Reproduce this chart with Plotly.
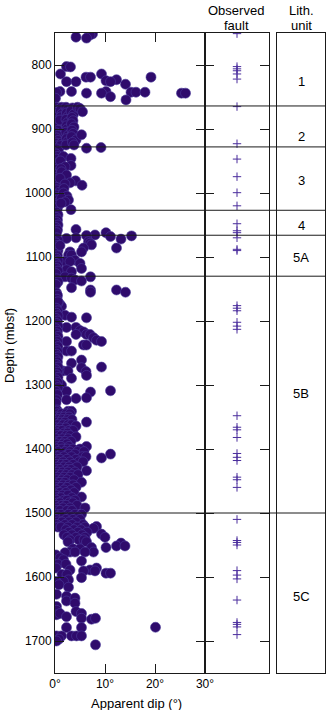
import plotly.graph_objects as go

# ---- Apparent dip picks (depth in mbsf, dip in degrees), grouped by lithologic unit ----
unit1_depth = [751.5, 753, 756.5, 758, 802.5, 803, 814, 814, 819, 819, 819, 823, 824.5, 826, 826, 826, 830,
               841.5, 841.5, 841.5, 842.5, 842.5, 842.5, 843, 844, 844, 844, 844, 849.5, 852, 854.5]
unit1_dip = [7.5, 7.0, 4.2, 6.3, 2.3, 3.1, 1.1, 9.3, 6.2, 7.1, 19.2, 12.3, 10.2, 2.3, 4.2, 11.1, 14.1,
             1.0, 3.3, 10.2, 15.2, 16.2, 18.0, 0.3, 6.3, 9.3, 25.3, 26.1, 11.1, 0.1, 14.2]

unit2_depth = [866, 870, 874, 878, 882, 886, 890, 894, 898, 902, 906, 910, 914, 918, 922, 926,
               866, 871, 876, 881, 886, 922, 926,
               866, 870, 875, 880, 885, 890, 895, 900, 905, 910, 915, 920, 925,
               867, 872, 877, 882, 887, 892, 897, 902, 907, 912, 917, 921, 925,
               866, 868, 873, 909, 930, 929]
unit2_dip = [0.3, 0.6, 0.2, 0.5, 0.3, 0.6, 0.2, 0.5, 0.3, 0.6, 0.2, 0.5, 0.3, 0.6, 0.2, 0.5,
             1.3, 1.1, 1.4, 1.2, 1.0, 1.3, 1.1,
             2.2, 2.5, 2.3, 2.6, 2.2, 2.5, 2.3, 2.4, 2.2, 2.6, 2.3, 2.5, 2.2,
             3.5, 3.2, 3.7, 3.4, 3.6, 3.3, 3.8, 3.4, 3.6, 3.3, 4.2, 3.5, 3.8,
             4.5, 5.0, 5.5, 5.3, 6.3, 9.2]

unit3_depth = [931, 935, 939, 943, 947, 951, 955, 959, 963, 967, 971, 975, 979, 983, 987, 991, 995, 999,
               1003, 1007, 1011, 1015, 1019, 1023,
               943, 946, 950, 957, 959, 962, 967, 972, 977, 981, 984, 986, 988, 993, 1000, 1005, 1008,
               1011, 1014, 1016, 1026]
unit3_dip = [0.3, 0.7, 0.2, 0.5, 0.3, 0.8, 0.2, 0.5, 0.3, 0.7, 0.2, 0.5, 0.3, 0.7, 0.2, 0.5, 0.3, 0.8,
             0.2, 0.5, 0.3, 0.7, 0.2, 0.5,
             1.7, 3.2, 1.1, 3.2, 2.0, 1.2, 1.3, 2.3, 1.0, 4.1, 3.0, 2.0, 5.4, 1.8, 1.7, 2.4, 1.3,
             2.7, 2.0, 1.2, 3.2]

unit4_depth = [1030, 1034, 1038, 1042, 1046, 1050, 1054, 1057, 1058, 1062]
unit4_dip = [0.3, 0.6, 0.2, 0.5, 0.3, 0.6, 0.2, 4.2, 0.5, 0.3]

unit5a_depth = [1062, 1065.5, 1066.5, 1067, 1068, 1070, 1071, 1072, 1076, 1078.5, 1081, 1086, 1086, 1092,
                1092, 1097, 1097, 1105, 1107, 1107, 1110, 1118, 1120, 1123,
                1070, 1074, 1078, 1082, 1086, 1090, 1094, 1098, 1102, 1106, 1110, 1114, 1118, 1122, 1126,
                1082]
unit5a_dip = [10.2, 8.0, 6.3, 15.3, 11.1, 4.2, 2.3, 13.2, 6.7, 7.0, 7.3, 12.3, 5.7, 5.3,
              3.0, 2.7, 3.3, 4.0, 2.0, 3.0, 5.0, 5.3, 2.3, 3.3,
              0.3, 0.6, 0.2, 0.5, 0.3, 0.6, 0.2, 0.5, 0.3, 0.6, 0.2, 0.5, 0.3, 0.6, 0.2,
              1.0]

unit5b_depth = [1131, 1131, 1133, 1136, 1137.5, 1148, 1151.5, 1155, 1151.5, 1155,
                1174, 1177, 1172, 1191, 1194, 1195,
                1210, 1210, 1215, 1217, 1221, 1221, 1221, 1226, 1230, 1232,
                1232, 1237.5, 1237.5, 1247, 1247,
                1261, 1266, 1272, 1273, 1279, 1285, 1278, 1278, 1276, 1289.5,
                1296, 1300, 1310, 1311, 1320, 1309, 1321, 1323,
                1134, 1139, 1143, 1156, 1160, 1166, 1170, 1180, 1184, 1188, 1192, 1196, 1200, 1204,
                1208, 1212, 1216, 1220, 1224, 1228, 1232, 1236, 1240, 1244, 1248, 1252, 1256, 1260,
                1264, 1268, 1272, 1276, 1280, 1284, 1288, 1292, 1296, 1300, 1304, 1310, 1315, 1323,
                1328, 1339,
                1341, 1341, 1341, 1345, 1345, 1345, 1345, 1350, 1350, 1350, 1350, 1354, 1354, 1354, 1354,
                1358, 1358, 1358, 1358, 1362, 1362, 1362, 1362, 1364, 1367, 1367, 1367,
                1371, 1371, 1371, 1371, 1375, 1375, 1375, 1379, 1379, 1379, 1379, 1381,
                1384, 1384, 1384, 1388, 1388, 1388, 1388, 1392, 1392, 1392, 1396, 1396, 1396, 1396,
                1400, 1400, 1400, 1400, 1400, 1404, 1404, 1404, 1404, 1404, 1408, 1408, 1408, 1408, 1408,
                1412, 1412, 1412, 1412, 1412, 1414, 1416, 1416, 1416, 1416, 1420, 1420, 1420, 1420, 1420,
                1424, 1424, 1424, 1424, 1428, 1428, 1428, 1428, 1432, 1432, 1432, 1432, 1434,
                1436, 1436, 1436, 1436, 1440, 1440, 1440, 1440, 1440, 1444, 1444, 1444,
                1448, 1448, 1448, 1448, 1452, 1452, 1452, 1452, 1456, 1456, 1456, 1456,
                1460, 1460, 1460, 1460, 1464, 1464, 1464, 1468, 1468, 1468, 1468, 1472, 1472, 1472, 1475,
                1476, 1476, 1476, 1480, 1480, 1480, 1480, 1484, 1484, 1484, 1484, 1488, 1488, 1488, 1488,
                1492, 1492, 1492, 1492, 1496, 1496, 1496, 1496]
unit5b_dip = [2.0, 7.1, 3.3, 4.0, 5.3, 3.3, 7.1, 7.1, 12.3, 14.1,
              1.0, 1.3, 0.6, 2.0, 3.3, 6.3,
              2.3, 4.2, 5.0, 5.7, 6.3, 7.0, 4.2, 7.7, 8.3, 9.3,
              2.3, 5.7, 6.3, 2.3, 3.3,
              5.3, 3.3, 9.3, 5.3, 6.2, 6.3, 1.6, 2.6, 0.8, 3.3,
              0.8, 1.3, 2.3, 7.1, 6.3, 11.1, 4.2, 2.3,
              0.3, 0.6, 0.2, 0.3, 0.5, 0.4, 0.6, 0.2, 0.5, 0.3, 0.6, 0.2, 0.5, 0.3,
              0.6, 0.2, 0.5, 0.3, 0.6, 0.2, 0.5, 0.3, 0.6, 0.2, 0.5, 0.3, 0.6, 0.2,
              0.5, 0.3, 0.6, 0.2, 0.5, 0.3, 0.6, 0.2, 0.5, 0.3, 0.6, 0.2, 0.5, 0.3,
              0.2, 0.4,
              0.3, 2.6, 3.3, 0.5, 1.3, 2.2, 3.0, 0.2, 1.0, 1.8, 2.8, 0.6, 1.5, 2.5, 3.4,
              0.3, 1.2, 2.0, 6.3, 0.5, 1.6, 2.6, 3.3, 4.2, 0.2, 1.0, 2.2,
              0.6, 1.4, 2.8, 3.6, 0.3, 1.8, 2.5, 0.5, 1.2, 2.2, 3.0, 4.2,
              0.2, 1.5, 2.6, 0.6, 1.0, 2.0, 3.2, 0.3, 1.6, 2.4, 0.5, 1.2, 2.8, 6.3,
              0.3, 1.4, 2.5, 3.6, 5.0, 0.6, 2.0, 3.0, 4.5, 5.8, 0.2, 1.2, 2.8, 11.1, 4.0,
              0.5, 1.8, 3.3, 5.5, 6.2, 9.3, 0.3, 1.0, 2.4, 4.2, 0.6, 1.6, 3.0, 4.8, 5.6,
              0.2, 1.3, 2.2, 3.6, 0.5, 1.8, 2.8, 4.4, 0.3, 1.0, 2.4, 3.2, 6.3,
              0.6, 1.5, 2.6, 4.0, 0.2, 1.2, 2.2, 3.4, 4.6, 0.5, 1.8, 3.0,
              0.3, 1.4, 2.4, 3.8, 0.6, 1.0, 2.0, 5.3, 0.2, 1.6, 2.8, 3.6,
              0.5, 1.2, 2.4, 4.2, 0.3, 1.8, 3.2, 0.6, 1.0, 2.2, 3.8, 0.2, 1.5, 2.6, 5.3,
              0.5, 1.2, 3.4, 0.3, 1.8, 2.4, 4.0, 0.6, 1.0, 2.8, 3.6, 0.2, 1.4, 2.2, 4.4,
              0.5, 1.6, 3.0, 6.0, 0.3, 1.0, 2.4, 3.4]

unit5c_depth = [1502, 1502, 1502, 1502, 1502, 1506, 1506, 1506, 1506, 1510, 1510, 1510, 1510,
                1514, 1514, 1514, 1514, 1518, 1518, 1518, 1518, 1521, 1522, 1522, 1522, 1522, 1522, 1524,
                1526, 1526, 1526, 1530, 1530, 1530, 1533, 1534, 1534, 1534, 1538, 1538, 1538, 1538,
                1542, 1542, 1542, 1545, 1545, 1547, 1551.5, 1551.5, 1554, 1554, 1556, 1556,
                1561, 1561, 1561, 1561, 1562, 1565.5, 1570, 1573, 1575, 1580, 1580, 1586, 1586,
                1589, 1589, 1590.5, 1590.5, 1594, 1594, 1596, 1596, 1601, 1604.5, 1607, 1607, 1612, 1616,
                1627, 1630, 1637.5, 1633, 1641, 1646, 1652, 1659, 1657, 1662, 1654, 1657, 1664.5,
                1666, 1664.5, 1679, 1679, 1678.5, 1692, 1692, 1692, 1692, 1692, 1697, 1700, 1706]
unit5c_dip = [0.3, 1.2, 2.7, 4.0, 5.3, 0.6, 1.8, 3.2, 4.6, 0.2, 2.2, 3.6, 5.0,
              0.5, 1.4, 2.8, 4.2, 0.3, 2.0, 3.4, 5.6, 8.3, 0.6, 1.2, 2.6, 4.4, 6.0, 7.7,
              2.2, 3.8, 5.2, 2.8, 4.6, 6.4, 9.3, 1.8, 3.4, 5.4, 2.4, 4.2, 6.0, 10.0,
              3.0, 4.8, 5.8, 6.3, 2.6, 13.2, 12.3, 14.0, 7.3, 10.2, 3.6, 5.0,
              7.7, 3.0, 4.0, 6.0, 2.0, 0.2, 1.0, 1.7, 5.3, 0.6, 2.2, 0.2, 8.3,
              7.0, 3.0, 5.7, 8.0, 10.2, 11.1, 1.4, 2.4, 5.3, 2.7, 1.7, 0.2, 0.8, 2.7,
              0.3, 2.3, 2.3, 4.0, 4.0, 0.3, 0.3, 0.3, 1.0, 2.3, 4.2, 5.3, 5.3,
              7.3, 8.1, 2.3, 5.3, 20.1, 0.3, 1.3, 3.3, 4.3, 5.3, 0.8, 0.3, 8.1]

# ---- Observed faults (depth, mbsf) ----
fault_depth = [751, 802.5, 806, 809, 814, 822, 865, 923, 947, 974.5, 999.5, 1020, 1048, 1059, 1062,
               1070, 1088, 1090, 1176, 1180, 1184, 1202, 1208, 1213, 1348, 1366, 1370, 1382, 1407,
               1413, 1418, 1444, 1448, 1460, 1510, 1543, 1546, 1550, 1590, 1597, 1603, 1636, 1671,
               1674, 1678, 1690]

# ---- Lithologic units ----
unit_boundaries = [864, 928, 1027, 1066, 1130, 1500]
unit_names = ["1", "2", "3", "4", "5A", "5B", "5C"]
unit_label_depth = [826, 912, 981, 1050, 1100, 1313, 1631]

# ---- Axes settings ----
depth_range = [1750, 750]
depth_ticks = [800, 900, 1000, 1100, 1200, 1300, 1400, 1500, 1600, 1700]
dip_ticks = [0, 10, 20, 30]
dip_ticktext = ["0°", "10°", "20°", "30°"]

depth = (unit1_depth + unit2_depth + unit3_depth + unit4_depth + unit5a_depth
         + unit5b_depth + unit5c_depth)
dip = unit1_dip + unit2_dip + unit3_dip + unit4_dip + unit5a_dip + unit5b_dip + unit5c_dip

FONT = "Liberation Sans, Arial, Helvetica, sans-serif"
INK = "#1a1a1a"
W, H = 326, 710
ML, MR, MT, MB = 55, 1, 33, 37
PW = W - ML - MR
PH = H - MT - MB


def px_x(px):
    return (px - ML) / PW


def px_y(py):
    return (H - MB - py) / PH


fig = go.Figure()

fig.add_trace(go.Scatter(
    x=dip, y=depth, mode="markers", xaxis="x", yaxis="y",
    marker=dict(size=10, color="#2f0b6c", line=dict(color="#4a3a9a", width=0.6)),
    hoverinfo="x+y", showlegend=False,
))

fig.add_trace(go.Scatter(
    x=[0.5] * len(fault_depth), y=fault_depth, mode="markers", xaxis="x2", yaxis="y2",
    marker=dict(symbol="cross-thin", size=6, color="#4a2d9c",
                line=dict(color="#4a2d9c", width=1)),
    showlegend=False,
))

axis_common = dict(showgrid=False, zeroline=False, showline=True, linecolor=INK, linewidth=1,
                   tickcolor=INK, automargin=False,
                   tickfont=dict(family=FONT, size=12, color="#000"))

fig.update_layout(
    template="none",
    width=W, height=H, autosize=False,
    margin=dict(l=ML, r=MR, t=MT, b=MB, pad=0),
    paper_bgcolor="white", plot_bgcolor="white",
    font=dict(family=FONT, size=12, color="#000"),
    xaxis=dict(domain=[0, px_x(205)], range=[0, 30], tickvals=dip_ticks, ticktext=dip_ticktext,
               ticks="inside", ticklen=9, mirror="ticks", anchor="y", **axis_common),
    yaxis=dict(domain=[0, 1], range=depth_range, tickvals=depth_ticks, ticks="inside", ticklen=9,
               mirror="ticks", anchor="x", **axis_common),
    xaxis2=dict(domain=[px_x(205), px_x(269)], range=[0, 1], showticklabels=False, ticks="",
                mirror=True, anchor="y2", **axis_common),
    yaxis2=dict(domain=[0, 1], range=depth_range, tickvals=depth_ticks, showticklabels=False,
                ticks="inside", ticklen=9, mirror="ticks", anchor="x2", matches="y", **axis_common),
    xaxis3=dict(domain=[px_x(277), 1], range=[0, 1], showticklabels=False, ticks="",
                mirror=True, anchor="y3", **axis_common),
    yaxis3=dict(domain=[0, 1], range=depth_range, showticklabels=False, ticks="",
                mirror=True, anchor="x3", matches="y", **axis_common),
)

# Lithologic unit boundaries, spanning all three columns
for b in unit_boundaries:
    fig.add_shape(type="line", xref="paper", yref="y", x0=0, x1=1, y0=b, y1=b,
                  line=dict(color=INK, width=1), layer="above")

# Unit names in the lithology column
for name, d in zip(unit_names, unit_label_depth):
    fig.add_annotation(x=0.5, y=d, xref="x3", yref="y3", text=name, showarrow=False,
                       font=dict(family=FONT, size=13, color="#000"))

# Column headers and axis titles
headers = [("Observed", 236, 10), ("fault", 236, 25), ("Lith.", 301, 10), ("unit", 301, 25)]
for text, hx, hy in headers:
    fig.add_annotation(x=px_x(hx), y=px_y(hy), xref="paper", yref="paper", text=text,
                       showarrow=False, xanchor="center", yanchor="middle",
                       font=dict(family=FONT, size=13, color="#000"))

fig.add_annotation(x=px_x(9), y=px_y(346), xref="paper", yref="paper", text="Depth (mbsf)",
                   textangle=-90, showarrow=False, xanchor="center", yanchor="middle",
                   font=dict(family=FONT, size=13, color="#000"))
fig.add_annotation(x=px_x(136), y=px_y(703), xref="paper", yref="paper", text="Apparent dip (°)",
                   showarrow=False, xanchor="center", yanchor="middle",
                   font=dict(family=FONT, size=13, color="#000"))

fig.write_html("out.html")
